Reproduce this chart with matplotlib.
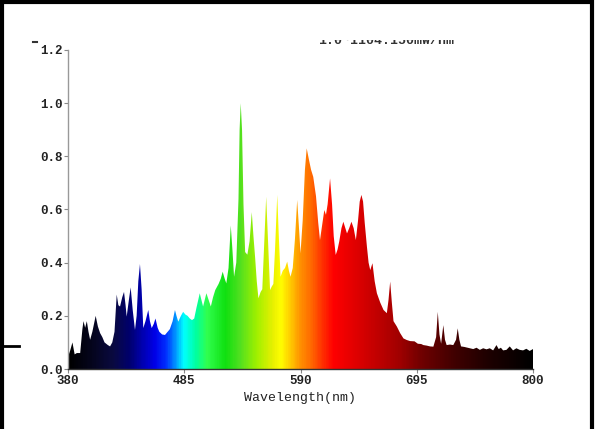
import numpy as np
import matplotlib
matplotlib.use('Agg')
import matplotlib.pyplot as plt
from matplotlib.colors import LinearSegmentedColormap
from matplotlib.patches import Rectangle
from matplotlib.lines import Line2D

# spectrum (nm, relative irradiance)
wavelength = [380, 382, 384, 386, 388, 391, 393, 394, 395.5, 397, 398.5, 400, 402, 405, 407,
              409, 411, 413, 416, 418, 420, 422, 424, 425.5, 427, 429, 430.6, 432, 433, 435,
              436.6, 438.5, 440.5, 442, 443.5, 445, 446.5, 448, 450, 452.5, 454, 455.6, 457.5,
              459, 461, 462.5, 465, 467.6, 470, 472, 474.5, 476.6, 478, 479.6, 482, 484, 486,
              488, 490, 492, 494, 496, 499, 500.5, 502, 503.5, 505, 507, 509, 511, 513, 516,
              518, 519.7, 521.5, 523, 525, 527, 528.5, 530, 532, 534, 535, 536, 537.2, 538.5,
              540, 542, 544, 546, 547.5, 549, 550.5, 552, 554, 555.5, 557, 559, 560.8, 562.5,
              564, 565.5, 567, 569, 570.5, 572, 574, 576, 578, 579.5, 581, 583, 585, 587,
              588.5, 590, 592, 594, 595.6, 597.5, 599.5, 601.5, 604, 606, 607.6, 609.5, 611.5,
              613, 614.5, 616.7, 618.5, 620, 621.8, 623.5, 625, 627, 628.7, 630.5, 632, 634,
              636, 638, 640, 642, 643.5, 645, 646.5, 648, 650, 651.5, 653, 655, 657, 659, 662,
              665, 668, 669.5, 671, 672.5, 674, 677, 680, 683, 686, 689, 693, 696, 699, 701,
              704, 707, 710, 712.5, 714, 715.5, 717, 719, 720.5, 722, 725, 728, 730.5, 732,
              733.5, 735, 738, 741, 743, 746, 749, 752, 755, 758, 761, 764, 767, 769, 771, 773,
              776, 779, 782, 785, 788, 791, 794, 797, 800]
irradiance = [0.045, 0.07, 0.10, 0.055, 0.06, 0.06, 0.15, 0.18, 0.155, 0.18, 0.14, 0.11, 0.14, 0.20, 0.16,
              0.135, 0.12, 0.10, 0.09, 0.085, 0.10, 0.14, 0.28, 0.24, 0.235, 0.27, 0.29, 0.24, 0.197, 0.26,
              0.307, 0.22, 0.147, 0.20, 0.33, 0.395, 0.30, 0.154, 0.18, 0.222, 0.18, 0.154, 0.17,
              0.19, 0.155, 0.14, 0.13, 0.128, 0.14, 0.15, 0.18, 0.222, 0.20, 0.178, 0.20, 0.215, 0.205,
              0.20, 0.19, 0.184, 0.19, 0.23, 0.285, 0.26, 0.235, 0.26, 0.285, 0.26, 0.235, 0.27, 0.297, 0.32,
              0.34, 0.366, 0.34, 0.322, 0.38, 0.54, 0.45, 0.347, 0.40, 0.64, 0.90, 1.00, 0.90, 0.62,
              0.44, 0.43, 0.48, 0.59, 0.50, 0.42, 0.33, 0.266, 0.29, 0.30, 0.45, 0.648, 0.47, 0.297,
              0.31, 0.32, 0.45, 0.655, 0.49, 0.347, 0.37, 0.38, 0.404, 0.37, 0.347, 0.38, 0.49, 0.636,
              0.54, 0.435, 0.56, 0.75, 0.83, 0.79, 0.75, 0.723, 0.65, 0.55, 0.485, 0.54, 0.598,
              0.58, 0.62, 0.717, 0.62, 0.50, 0.429, 0.45, 0.48, 0.53, 0.554, 0.53, 0.51, 0.53,
              0.554, 0.53, 0.485, 0.56, 0.63, 0.655, 0.63, 0.55, 0.46, 0.40, 0.372, 0.398, 0.33, 0.285, 0.25,
              0.222, 0.21, 0.26, 0.329, 0.25, 0.18, 0.16, 0.135, 0.115, 0.109, 0.105, 0.104, 0.095, 0.094, 0.09,
              0.088, 0.085, 0.084, 0.12, 0.215, 0.13, 0.095, 0.165, 0.11, 0.09, 0.092, 0.09, 0.11, 0.153,
              0.11, 0.085, 0.083, 0.08, 0.078, 0.075, 0.08, 0.072, 0.078, 0.074, 0.078, 0.07, 0.09, 0.075, 0.08, 0.07,
              0.072, 0.085, 0.07, 0.078, 0.072, 0.07, 0.076, 0.068, 0.075]

xticks = [380, 485, 590, 695, 800]
yticks = [0.0, 0.2, 0.4, 0.6, 0.8, 1.0, 1.2]
note = '1.0~1104.150mW/nm'

# colour of light along the wavelength axis
stops = [(380, '#000000'), (400, '#05051c'), (420, '#0a0a40'), (435, '#00006e'), (445, '#0000a8'),
         (458, '#0000e8'), (468, '#0030ff'), (476, '#0090ff'), (484, '#00ffff'), (495, '#00ffa0'),
         (505, '#30ff50'), (522, '#10e010'), (535, '#50e020'), (550, '#a0f000'), (565, '#e8f000'),
         (572, '#ffff00'), (580, '#ffd000'), (590, '#ff9000'), (600, '#ff6800'), (610, '#ff3000'),
         (620, '#ff0000'), (640, '#e00000'), (660, '#c00000'), (680, '#a00000'), (700, '#700000'),
         (730, '#400000'), (760, '#1e0000'), (800, '#000000')]
cmap = LinearSegmentedColormap.from_list('spec', [((w - 380) / 420, c) for w, c in stops])

plt.rcParams['font.family'] = ['Liberation Mono', 'DejaVu Sans Mono']
plt.rcParams['font.weight'] = 'bold'

fig = plt.figure(figsize=(5.95, 4.29), dpi=100)
ax = fig.add_axes([68 / 595, 1 - 369 / 429, 465 / 595, 319 / 429])

poly = ax.fill_between(wavelength, 0, irradiance, color='none', lw=0)
ramp = np.linspace(0, 1, 600).reshape(1, -1)
img = ax.imshow(ramp, cmap=cmap, extent=[380, 800, 0, 1.2], aspect='auto', origin='lower')
img.set_clip_path(poly.get_paths()[0], transform=ax.transData)

ax.set_xlim(380, 800)
ax.set_ylim(0, 1.2)
ax.set_xticks(xticks)
ax.set_yticks(yticks)
ax.set_yticklabels(['%.1f' % v for v in yticks])
ax.spines['top'].set_visible(False)
ax.spines['right'].set_visible(False)
ax.spines['left'].set_color('#999999')
ax.spines['bottom'].set_color('#333333')
ax.spines['left'].set_linewidth(1.0)
ax.spines['bottom'].set_linewidth(1.0)
ax.tick_params(axis='both', length=3, width=0.8, color='#888888', labelsize=9, pad=1, labelcolor='#222222')
ax.set_xlabel('Wavelength(nm)', fontsize=9.5, labelpad=4, color='#222222')

# title text cut off at top of the original
fig.text(318 / 595, 1 - 47 / 429, note, fontsize=9.5, va='bottom', ha='left', color='#333333')
fig.add_artist(Rectangle((0, 1 - 40 / 429), 1, 40 / 429, transform=fig.transFigure,
                         facecolor='white', edgecolor='none', zorder=5))
fig.add_artist(Line2D([33 / 595, 37 / 595], [1 - 42 / 429] * 2, color='#333333', lw=1.5, zorder=6))

# frame lines of the screenshot
bk = dict(color='black', lw=3, zorder=10, solid_capstyle='butt')
fig.add_artist(Line2D([0, 593 / 595], [1 - 1.5 / 429] * 2, **bk))
fig.add_artist(Line2D([1.5 / 595] * 2, [0, 1], **bk))
fig.add_artist(Line2D([591.5 / 595] * 2, [0, 1], **bk))
fig.add_artist(Line2D([0, 19 / 595], [1 - 346 / 429] * 2, color='black', lw=2, zorder=10))

fig.savefig('out.png', dpi=100)
